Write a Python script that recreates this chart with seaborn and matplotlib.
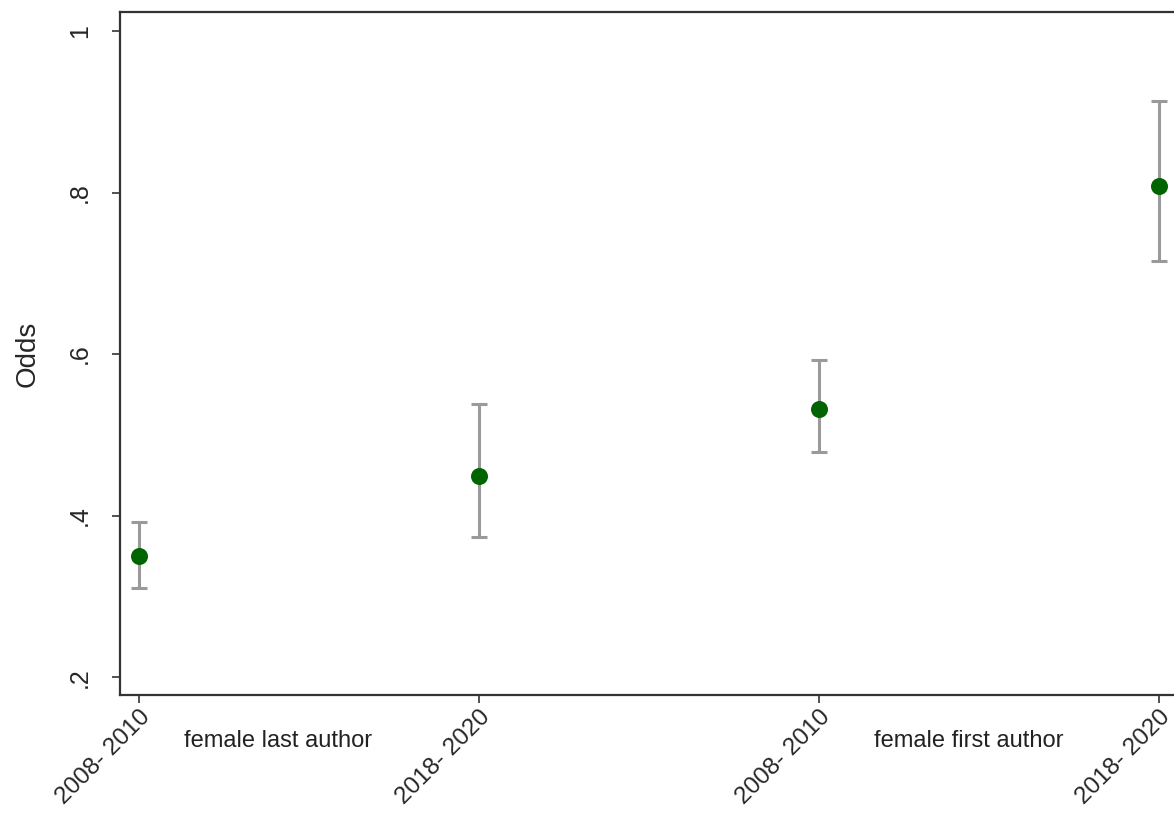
import numpy as np
import pandas as pd
import seaborn as sns
import matplotlib.pyplot as plt
import matplotlib.transforms as mtransforms

# values
periods = ["2008- 2010", "2018- 2020", "2008- 2010", "2018- 2020"]
groups = ["female last author", "female last author", "female first author", "female first author"]
odds = [0.350, 0.449, 0.532, 0.808]
lower = [0.311, 0.373, 0.479, 0.715]
upper = [0.392, 0.538, 0.593, 0.913]
yticks = [0.2, 0.4, 0.6, 0.8, 1.0]
ytick_labels = [".2", ".4", ".6", ".8", "1"]
group_names = ["female last author", "female first author"]
group_label_x = [0.41, 2.44]

sns.set_style("white")
plt.rcParams['font.family'] = ['Liberation Sans', 'DejaVu Sans']

df = pd.DataFrame({"pos": np.arange(len(odds)), "period": periods, "group": groups,
                   "odds": odds, "lower": lower, "upper": upper})

fig = plt.figure(figsize=(11.74, 8.17), dpi=100)
ax = fig.add_axes([120 / 1174, 122 / 817, 1 - 120 / 1174, 683 / 817])

ax.errorbar(df["pos"], df["odds"],
            yerr=[df["odds"] - df["lower"], df["upper"] - df["odds"]],
            fmt="none", ecolor="#9a9a9a", elinewidth=2.2, capsize=6, capthick=2.2, zorder=2)
sns.scatterplot(data=df, x="pos", y="odds", ax=ax, color="#006400", s=150,
                edgecolor="#006400", linewidth=0, zorder=3, legend=False)

ax.set_xlim(-0.056, 3.044)
ax.set_ylim(0.178, 1.0235)
ax.set_xticks(df["pos"])
ax.set_xticklabels(periods, rotation=45, ha="right", rotation_mode="anchor", fontsize=17.5)
ax.set_yticks(yticks)
ax.set_yticklabels(ytick_labels, rotation=90, va="center", fontsize=18)
ax.set_xlabel("")
ax.set_ylabel("Odds", fontsize=20, labelpad=20)

# nudge rotated tick labels a little left so they end at the tick
shift = mtransforms.ScaledTranslation(-5 / 100, 0, fig.dpi_scale_trans)
for lab in ax.get_xticklabels():
    lab.set_transform(lab.get_transform() + shift)

for sp in ["left", "bottom", "top"]:
    ax.spines[sp].set_color("#333333")
    ax.spines[sp].set_linewidth(1.6)
ax.spines["right"].set_visible(False)
ax.tick_params(axis="both", direction="out", length=6, width=1.2, color="#333333",
               bottom=True, left=True, pad=4)
ax.tick_params(axis="x", pad=2)
ax.tick_params(axis="y", pad=14)

for name, gx in zip(group_names, group_label_x):
    ax.text(gx, -0.068, name, transform=ax.get_xaxis_transform(), ha="center",
            va="center", fontsize=17, color="#222222")

fig.savefig("out.png", dpi=100)
